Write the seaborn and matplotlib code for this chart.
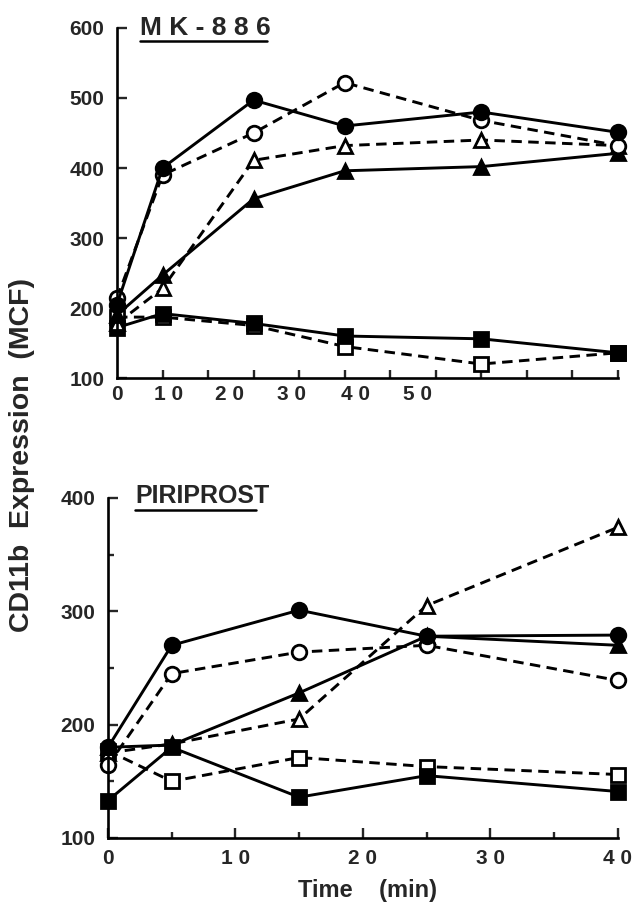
import matplotlib
matplotlib.use("Agg")
import matplotlib.pyplot as plt
import seaborn as sns
import numpy as np
import pandas as pd
from matplotlib.lines import Line2D

sns.set_theme(style="white")
plt.rcParams['font.family'] = ['Liberation Sans', 'DejaVu Sans']
plt.rcParams['font.weight'] = 'bold'

# ---- data: MK-886 panel ----
mk_time = [0, 5, 15, 25, 40, 55]
mk_filled_circle = [205, 400, 497, 460, 480, 451]
mk_open_circle = [214, 390, 450, 522, 468, 432]
mk_filled_tri = [190, 247, 356, 396, 402, 421]
mk_open_tri = [178, 228, 411, 432, 440, 432]
mk_filled_sq = [172, 192, 178, 160, 156, 136]
mk_open_sq = [187, 187, 175, 145, 120, 136]
mk_xtick_labels = ["0", "1 0", "2 0", "3 0", "4 0", "5 0"]
mk_xtick_pos = [0, 5.7, 12.4, 19.2, 26.2, 33.0]
mk_yticks = [100, 200, 300, 400, 500, 600]

# ---- data: PIRIPROST panel ----
pp_time = [0, 5, 15, 25, 40]
pp_filled_circle = [180, 270, 301, 278, 279]
pp_open_circle = [164, 245, 264, 270, 239]
pp_filled_tri = [180, 182, 228, 278, 270]
pp_open_tri = [175, 183, 205, 305, 374]
pp_filled_sq = [133, 180, 136, 155, 141]
pp_open_sq = [177, 150, 171, 163, 156]
pp_xtick_labels = ["0", "1 0", "2 0", "3 0", "4 0"]
pp_xticks = [0, 10, 20, 30, 40]
pp_yticks = [100, 200, 300, 400]

fig = plt.figure(figsize=(6.34, 9.24), dpi=100)
ax1 = fig.add_axes([0.1845, 0.5909, 0.790, 0.3788])
ax2 = fig.add_axes([0.1703, 0.0931, 0.804, 0.368])

def draw(ax, t, series):
    for vals, marker, filled, dashed in series:
        df = pd.DataFrame({"t": t, "v": vals})
        ms = {'o': 10.5, 's': 9.5, '^': 10}[marker]
        kw = dict(color="black", lw=2.1, marker=marker, markersize=ms,
                  markeredgecolor="black", markeredgewidth=2.0,
                  markerfacecolor="black" if filled else "white")
        if dashed:
            kw["dashes"] = (3.6, 2.2)
        sns.lineplot(data=df, x="t", y="v", ax=ax, clip_on=False, **kw)

draw(ax1, mk_time, [
    (mk_open_sq, 's', False, True),
    (mk_filled_sq, 's', True, False),
    (mk_open_tri, '^', False, True),
    (mk_filled_tri, '^', True, False),
    (mk_open_circle, 'o', False, True),
    (mk_filled_circle, 'o', True, False),
])
draw(ax2, pp_time, [
    (pp_open_sq, 's', False, True),
    (pp_filled_sq, 's', True, False),
    (pp_open_tri, '^', False, True),
    (pp_filled_tri, '^', True, False),
    (pp_open_circle, 'o', False, True),
    (pp_filled_circle, 'o', True, False),
])

for ax in (ax1, ax2):
    for s in ("top", "right"):
        ax.spines[s].set_visible(False)
    for s in ("left", "bottom"):
        ax.spines[s].set_color("black")
        ax.spines[s].set_linewidth(1.9)
    ax.set_xlabel("")
    ax.set_ylabel("")
    ax.grid(False)

# top panel axes
ax1.set_xlim(0, 55)
ax1.set_ylim(100, 600)
ax1.set_yticks(mk_yticks)
ax1.set_yticklabels([str(v) for v in mk_yticks], fontsize=15, fontweight='bold')
ax1.tick_params(axis='y', direction='in', length=7, width=1.7, pad=9, left=True)
ax1.set_xticks(mk_xtick_pos)
ax1.set_xticklabels(mk_xtick_labels, fontsize=15, fontweight='bold')
ax1.tick_params(axis='x', which='major', length=0, pad=5, bottom=True)
ax1.set_xticks(np.arange(5, 56, 5), minor=True)
ax1.tick_params(axis='x', which='minor', direction='in', length=6, width=1.7, bottom=True)

# bottom panel axes
ax2.set_xlim(0, 40)
ax2.set_ylim(100, 400)
ax2.set_yticks(pp_yticks)
ax2.set_yticklabels([str(v) for v in pp_yticks], fontsize=15, fontweight='bold')
ax2.set_yticks([150, 250, 350], minor=True)
ax2.tick_params(axis='y', which='major', direction='in', length=7, width=1.7, pad=9, left=True)
ax2.tick_params(axis='y', which='minor', direction='in', length=4, width=1.7, left=True)
ax2.set_xticks(pp_xticks)
ax2.set_xticklabels(pp_xtick_labels, fontsize=15, fontweight='bold')
ax2.tick_params(axis='x', which='major', direction='in', length=7, width=1.7, pad=8, bottom=True)
ax2.set_xticks([5, 15, 25, 35], minor=True)
ax2.tick_params(axis='x', which='minor', direction='in', length=4, width=1.7, bottom=True)

# panel titles with underline
ax1.text(0.046, 1.0, "M K - 8 8 6", transform=ax1.transAxes, fontsize=19,
         fontweight='bold', ha='left', va='center')
ax1.add_line(Line2D([0.046, 0.30], [0.962, 0.962], transform=ax1.transAxes,
                    color='black', lw=1.8, clip_on=False))
ax2.text(0.053, 1.005, "PIRIPROST", transform=ax2.transAxes, fontsize=18,
         family=['Liberation Sans Narrow', 'Liberation Sans'],
         fontweight='bold', ha='left', va='center')
ax2.add_line(Line2D([0.053, 0.29], [0.966, 0.966], transform=ax2.transAxes,
                    color='black', lw=1.8, clip_on=False))

fig.text(0.035, 0.508, "CD11b  Expression  (MCF)", rotation=90, fontsize=20.5,
         fontweight='bold', ha='center', va='center')
fig.text(0.58, 0.036, "Time    (min)", fontsize=17, fontweight='bold',
         ha='center', va='center')

fig.savefig("out.png", dpi=100)
